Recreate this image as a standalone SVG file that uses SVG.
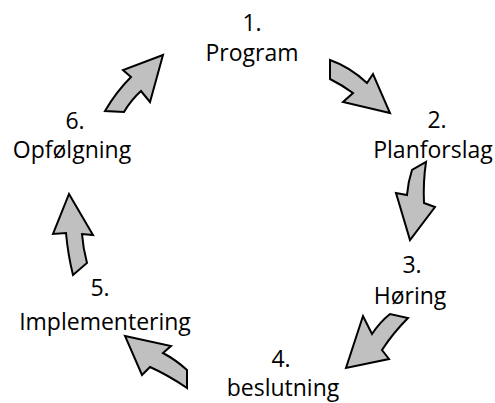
<svg xmlns="http://www.w3.org/2000/svg" width="495" height="403" viewBox="0 0 495 403">
<style>
.arrow{fill:#c0c0c0;stroke:#000;stroke-width:2;stroke-linejoin:miter}
.lbl{font-family:"Open Sans","Noto Sans","Liberation Sans",sans-serif;font-size:23px;fill:#000;text-anchor:middle}
</style>
<rect width="495" height="403" fill="#fff"/>
<g id="connectors">
<path class="arrow" d="M163,55 L123,70 L131,77 Q116,92 105,111 L124,112 Q131,100 141,91 L150,102 Z"/>
<path class="arrow" d="M330,60 Q350,67 367,83 L373,74 L390,113 L343,102 L353,93 Q342,85 330,79 Z"/>
<path class="arrow" d="M426,162 Q423,182 424,203 L435,207 L410,240 L396,193 L407,195 Q408,182 412,170 Z"/>
<path class="arrow" d="M408,318 Q393,333 382,350 L389,359 L346,368 L363,316 L372,334 Q380,322 390,314 Z"/>
<path class="arrow" d="M125,336 L171,346 L163,353 Q176,360 187,370 L187,388 Q168,375 150,367 L142,375 Z"/>
<path class="arrow" d="M69,194 L93,235 L82,234 Q83,248 87,263 L73,275 Q68,255 66,233 L53,234 Z"/>
</g>
<g id="n1"><text class="lbl" x="252" y="31">1.</text><text class="lbl" x="252" y="61">Program</text></g>
<g id="n2"><text class="lbl" x="437" y="128">2.</text><text class="lbl" x="433" y="158">Planforslag</text></g>
<g id="n3"><text class="lbl" x="412" y="273">3.</text><text class="lbl" x="410" y="304">Høring</text></g>
<g id="n4"><text class="lbl" x="281" y="367">4.</text><text class="lbl" x="283" y="396">beslutning</text></g>
<g id="n5"><text class="lbl" x="100" y="296">5.</text><text class="lbl" x="105" y="330">Implementering</text></g>
<g id="n6"><text class="lbl" x="75" y="129">6.</text><text class="lbl" x="72" y="158">Opfølgning</text></g>
</svg>
